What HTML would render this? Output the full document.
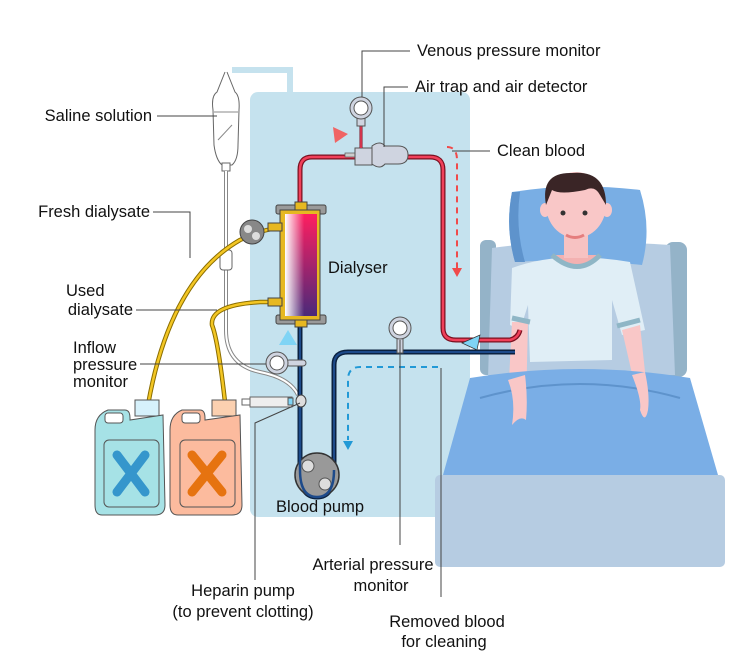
<!DOCTYPE html>
<html><head><style>
html,body{margin:0;padding:0;background:#fff;}
svg{display:block;}
text{font-family:"Liberation Sans",Arial,sans-serif;font-size:16.5px;fill:#111;}
</style></head><body>
<svg width="750" height="667" viewBox="0 0 750 667" xmlns="http://www.w3.org/2000/svg">
<!-- panel -->
<path d="M232 70 H290 V92" fill="none" stroke="#c5e2ee" stroke-width="6"/>
<rect x="250" y="92" width="220" height="425" rx="8" fill="#c5e2ee"/>

<!-- bed -->
<rect x="480" y="240" width="16" height="135" rx="6" fill="#94b3c8"/>
<rect x="665" y="242" width="22" height="135" rx="8" fill="#94b3c8"/>
<path d="M492 248 Q560 238 670 245 L675 375 L488 378 Z" fill="#b6cce2"/>
<path d="M512 192 Q505 228 515 262 Q575 258 642 265 Q652 228 640 190 Q575 182 512 192Z" fill="#79aee4"/>
<path d="M512 192 Q505 228 515 262 L525 262 Q515 228 520 192Z" fill="#5e93cc"/>
<!-- patient -->
<path d="M512 268 Q560 250 630 262 L645 330 L622 335 L612 300 L612 360 L530 362 L528 305 L520 330 L510 325 Z" fill="#e0eef6"/>
<path d="M552 255 Q578 278 600 255" fill="#f3b1b1" stroke="#8fb6c6" stroke-width="5"/>
<rect x="564" y="232" width="24" height="26" fill="#f7c2c2"/>
<ellipse cx="576" cy="205" rx="30" ry="33" fill="#f9c7c7"/>
<ellipse cx="545" cy="210" rx="5" ry="7" fill="#f9c7c7"/>
<ellipse cx="607" cy="210" rx="5" ry="7" fill="#f9c7c7"/>
<path d="M546 205 Q540 172 572 173 Q606 170 606 205 L600 195 Q595 185 585 190 Q560 195 552 190 Z" fill="#3a2526"/>
<circle cx="563" cy="213" r="2.5" fill="#333"/><circle cx="585" cy="213" r="2.5" fill="#333"/>
<path d="M566 235 Q575 240 584 235" stroke="#e57e7e" stroke-width="3" fill="none"/>
<path d="M512 322 L528 322 L526 405 Q520 412 515 403 L508 400 Z" fill="#f9c7c7"/>
<path d="M622 330 L640 325 L648 400 Q644 410 638 400 Z" fill="#f9c7c7"/>
<path d="M512 318 L530 322" stroke="#8fb6c6" stroke-width="5"/>
<path d="M617 326 L640 320" stroke="#8fb6c6" stroke-width="5"/>
<!-- blanket -->
<path d="M470 378 Q580 360 690 378 L718 475 L443 475 Z" fill="#7aaee6"/>
<path d="M480 398 Q580 370 680 398" stroke="#5e93cc" stroke-width="2" fill="none"/>
<path d="M508 380 Q516 400 512 425 Q520 415 526 420 Q528 398 525 375 Z" fill="#f9c7c7"/>
<path d="M632 375 Q642 400 640 410 Q645 425 648 410 Q650 395 645 372 Z" fill="#f9c7c7"/>
<rect x="435" y="475" width="290" height="92" rx="5" fill="#b6cce2"/>

<!-- IV bag -->
<path d="M225 72 L217 92 Q211 96 213 110 L214 145 Q216 160 222 165 L232 165 Q238 160 238 145 L239 110 Q240 96 235 92 L227 72" fill="#fff" stroke="#666"/>
<line x1="214" y1="112" x2="238" y2="112" stroke="#888"/>
<line x1="218" y1="140" x2="232" y2="125" stroke="#888"/>
<rect x="222" y="163" width="8" height="8" fill="#fff" stroke="#666"/>
<path d="M226 171 V250 M226 270 V330 Q226 365 260 372 Q290 378 298 395" fill="none" stroke="#888" stroke-width="4"/>
<path d="M226 171 V250 M226 270 V330 Q226 365 260 372 Q290 378 298 395" fill="none" stroke="#fff" stroke-width="2"/>
<rect x="220" y="250" width="12" height="20" rx="3" fill="#fff" stroke="#666"/>

<!-- yellow tubes -->
<path d="M148 405 Q170 280 240 240 Q265 228 282 228" fill="none" stroke="#8a6d00" stroke-width="4.5"/>
<path d="M148 405 Q170 280 240 240 Q265 228 282 228" fill="none" stroke="#f3c623" stroke-width="2.5"/>
<path d="M225 402 Q218 340 212 325 Q210 305 260 302 L282 302" fill="none" stroke="#8a6d00" stroke-width="4.5"/>
<path d="M225 402 Q218 340 212 325 Q210 305 260 302 L282 302" fill="none" stroke="#f3c623" stroke-width="2.5"/>
<circle cx="252" cy="232" r="12" fill="#888" stroke="#444"/>
<circle cx="248" cy="229" r="4" fill="#ddd"/><circle cx="256" cy="236" r="4" fill="#ddd"/>

<!-- jugs -->
<rect x="135" y="400" width="24" height="16" fill="#d6f1fb" stroke="#555"/>
<path d="M95 430 Q95 415 108 410 L125 410 Q130 410 130 418 L130 420 L163 415 L165 505 Q165 515 155 515 L102 515 Q95 515 95 505 Z" fill="#a6e2e6" stroke="#555"/>
<rect x="104" y="440" width="55" height="67" rx="5" fill="none" stroke="#555"/>
<path d="M117 455 L145 492 M145 455 L117 492" stroke="#3596cc" stroke-width="9" stroke-linecap="round"/>
<rect x="105" y="413" width="18" height="10" rx="3" fill="#fff" stroke="#555"/>
<rect x="212" y="400" width="24" height="16" fill="#fbd0b0" stroke="#555"/>
<path d="M170 430 Q170 415 182 410 L200 410 Q205 410 205 418 L205 420 L240 415 L242 505 Q242 515 232 515 L178 515 Q170 515 170 505 Z" fill="#fcbb9e" stroke="#555"/>
<rect x="180" y="440" width="55" height="67" rx="5" fill="none" stroke="#555"/>
<path d="M192 455 L222 492 M222 455 L192 492" stroke="#e67310" stroke-width="9" stroke-linecap="round"/>
<rect x="182" y="413" width="18" height="10" rx="3" fill="#fff" stroke="#555"/>

<!-- blood line blue -->
<path d="M300 320 V470 Q300 497 317 497 Q334 497 334 470 V365 Q334 352 348 352 H515" fill="none" stroke="#0a2140" stroke-width="5"/>
<path d="M300 320 V470 Q300 497 317 497 Q334 497 334 470 V365 Q334 352 348 352 H515" fill="none" stroke="#1d4a8a" stroke-width="2"/>
<circle cx="317" cy="475" r="22" fill="#999" stroke="#333" stroke-width="1.5"/>
<circle cx="308" cy="466" r="6" fill="#ddd" stroke="#555"/><circle cx="325" cy="484" r="6" fill="#ddd" stroke="#555"/>
<path d="M300 400 V470 Q300 497 317 497 Q334 497 334 470" fill="none" stroke="#1d4a8a" stroke-width="2.5"/>
<!-- red line -->
<path d="M300 210 V170 Q300 157 312 157 H430 Q443 157 443 170 V328 Q443 340 456 340 H510 Q518 338 520 330" fill="none" stroke="#7a1020" stroke-width="5"/>
<path d="M300 210 V170 Q300 157 312 157 H430 Q443 157 443 170 V328 Q443 340 456 340 H510 Q518 338 520 330" fill="none" stroke="#f0405a" stroke-width="2.5"/>
<!-- dialyser -->
<rect x="276" y="205" width="50" height="9" rx="2" fill="#9a9a9a" stroke="#444"/>
<rect x="276" y="315" width="50" height="9" rx="2" fill="#9a9a9a" stroke="#444"/>
<rect x="295" y="202" width="12" height="125" fill="#e6b821" stroke="#444"/>
<rect x="280" y="210" width="40" height="110" fill="#e6b821" stroke="#444"/>
<rect x="268" y="223" width="14" height="8" fill="#e6b821" stroke="#444"/>
<rect x="268" y="298" width="14" height="8" fill="#e6b821" stroke="#444"/>
<defs>
<linearGradient id="dg" x1="0" y1="0" x2="0" y2="1"><stop offset="0" stop-color="#ff1e60"/><stop offset="1" stop-color="#4a2a7a"/></linearGradient>
<linearGradient id="dw" x1="0" y1="0" x2="1" y2="0"><stop offset="0" stop-color="#fff" stop-opacity="1"/><stop offset="0.6" stop-color="#fff" stop-opacity="0"/></linearGradient>
</defs>
<rect x="285" y="214" width="32" height="102" fill="url(#dg)"/>
<rect x="285" y="214" width="32" height="102" fill="url(#dw)"/>
<!-- air trap -->
<rect x="345" y="153" width="30" height="4" fill="#ccc" stroke="#555" stroke-width="0.7"/>
<path d="M355 148 H372 V165 H355Z" fill="#cfd4e0" stroke="#555"/>
<path d="M372 146 Q380 140 385 146 H398 Q408 146 408 155 Q408 164 398 164 H385 Q380 170 372 164Z" fill="#cfd4e0" stroke="#555"/>
<line x1="361" y1="120" x2="361" y2="148" stroke="#7a1020" stroke-width="3"/>
<line x1="361" y1="120" x2="361" y2="148" stroke="#f0405a" stroke-width="1.5"/>
<rect x="357" y="112" width="8" height="14" fill="#cfd4e0" stroke="#555"/>
<circle cx="361" cy="108" r="11" fill="#cfd4e0" stroke="#555"/><circle cx="361" cy="108" r="7" fill="#fff" stroke="#555"/>
<polygon points="333,127 348,134 335,143" fill="#f06464"/>
<!-- arterial monitor -->
<rect x="397" y="337" width="6" height="16" fill="#cfd4e0" stroke="#555"/>
<circle cx="400" cy="328" r="11" fill="#cfd4e0" stroke="#555"/><circle cx="400" cy="328" r="7" fill="#fff" stroke="#555"/>
<!-- inflow monitor -->
<rect x="286" y="360" width="20" height="6" rx="3" fill="#cfd4e0" stroke="#555"/>
<circle cx="277" cy="363" r="11" fill="#cfd4e0" stroke="#555"/><circle cx="277" cy="363" r="7" fill="#fff" stroke="#555"/>
<polygon points="288,330 279,345 297,345" fill="#7fd4f5"/>
<polygon points="462,343 480,335 477,350" fill="#7fd4f5" stroke="#333" stroke-width="0.7"/>
<!-- syringe -->
<rect x="250" y="397" width="42" height="10" fill="#eee" stroke="#666"/>
<rect x="242" y="399" width="8" height="6" fill="#fff" stroke="#666"/>
<rect x="288" y="398" width="5" height="7" fill="#7fd4f5" stroke="#555"/>
<ellipse cx="301" cy="401" rx="5" ry="6" fill="#ddd" stroke="#444"/>
<!-- dashed flows -->
<path d="M447 147 Q457 147 457 160 V270" fill="none" stroke="#f04a4a" stroke-width="2" stroke-dasharray="6,5"/>
<polygon points="452,268 462,268 457,277" fill="#f04a4a"/>
<path d="M438 367 H360 Q348 367 348 380 V440" fill="none" stroke="#2199d6" stroke-width="2" stroke-dasharray="6,5"/>
<polygon points="343,441 353,441 348,450" fill="#2199d6"/>

<!-- leader lines -->
<g stroke="#444" stroke-width="1" fill="none">
<path d="M157 116 H217"/>
<path d="M153 212 H190 V258"/>
<path d="M136 310 H217"/>
<path d="M140 364 H266"/>
<path d="M362 97 V51 H410"/>
<path d="M384 147 V87 H408"/>
<path d="M452 151 H490"/>
<path d="M300 403 L255 423 V580"/>
<path d="M400 340 V545"/>
<path d="M441 368 V597"/>
</g>
<!-- labels -->
<text x="152" y="121" text-anchor="end">Saline solution</text>
<text x="150" y="217" text-anchor="end">Fresh dialysate</text>
<text x="66" y="296">Used</text>
<text x="133" y="315" text-anchor="end">dialysate</text>
<text x="73" y="353">Inflow</text>
<text x="73" y="370">pressure</text>
<text x="73" y="387">monitor</text>
<text x="417" y="56">Venous pressure monitor</text>
<text x="415" y="92">Air trap and air detector</text>
<text x="497" y="156">Clean blood</text>
<text x="328" y="273">Dialyser</text>
<text x="320" y="512" text-anchor="middle">Blood pump</text>
<text x="373" y="570" text-anchor="middle">Arterial pressure</text>
<text x="381" y="591" text-anchor="middle">monitor</text>
<text x="243" y="596" text-anchor="middle">Heparin pump</text>
<text x="243" y="617" text-anchor="middle">(to prevent clotting)</text>
<text x="447" y="627" text-anchor="middle">Removed blood</text>
<text x="444" y="647" text-anchor="middle">for cleaning</text>
</svg>
</body></html>
